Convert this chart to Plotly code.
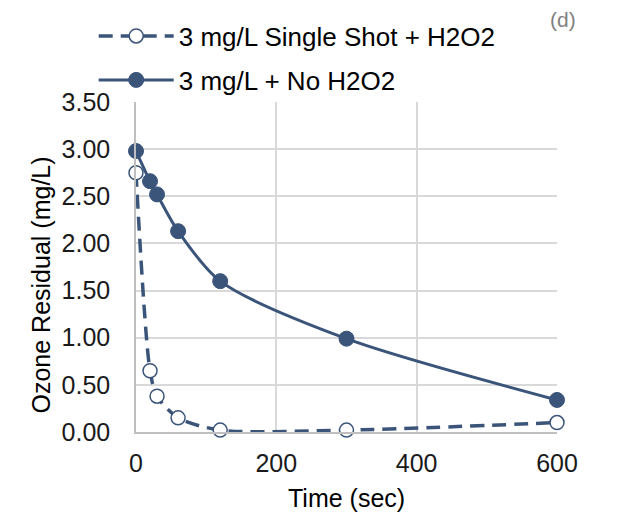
import plotly.graph_objects as go

time_h2o2 = [0, 20, 30, 60, 120, 300, 600]
resid_h2o2 = [2.75, 0.65, 0.38, 0.15, 0.02, 0.02, 0.10]
time_no = [0, 20, 30, 60, 120, 300, 600]
resid_no = [2.98, 2.66, 2.52, 2.13, 1.60, 0.99, 0.34]
yticks = [0, 0.5, 1.0, 1.5, 2.0, 2.5, 3.0, 3.5]
xticks = [0, 200, 400, 600]

C = "#3b5479"
FONT = "Liberation Sans, Arial, sans-serif"
FS = 25

fig = go.Figure()
fig.add_trace(go.Scatter(
    x=time_h2o2, y=resid_h2o2, mode="lines+markers",
    name="3 mg/L Single Shot + H2O2",
    line=dict(color=C, width=3.5, dash="14px,8px", shape="spline", smoothing=0.8),
    marker=dict(symbol="circle", size=14, color="white", line=dict(color=C, width=1.5)),
    cliponaxis=False, legend="legend", showlegend=True))
fig.add_trace(go.Scatter(
    x=time_no, y=resid_no, mode="lines+markers",
    name="3 mg/L + No H2O2",
    line=dict(color=C, width=3, shape="spline", smoothing=0.8),
    marker=dict(symbol="circle", size=15, color=C, line=dict(color=C, width=1)),
    cliponaxis=False, legend="legend2", showlegend=True))

L, R, T, B = 128, 72, 94, 92
W, H = 621, 516
pw = W - L - R
ph = H - T - B
fig.update_layout(
    width=W, height=H, showlegend=True,
    margin=dict(l=L, r=R, t=T, b=B, autoexpand=False),
    paper_bgcolor="white", plot_bgcolor="white",
    font=dict(family=FONT, size=FS, color="#000000"),
    legend=dict(visible=True, xref="container", yref="container", x=0.138, y=1 - 28 / H,
                xanchor="left", yanchor="middle", bgcolor="rgba(0,0,0,0)",
                font=dict(size=26), itemwidth=75),
    legend2=dict(visible=True, xref="container", yref="container", x=0.138, y=1 - 72 / H,
                 xanchor="left", yanchor="middle", bgcolor="rgba(0,0,0,0)",
                 font=dict(size=26), itemwidth=75),
    xaxis=dict(range=[0, 600], tickvals=xticks, showgrid=True, gridcolor="#d9d9d9", gridwidth=1.5,
               showline=True, linecolor="#bfbfbf", linewidth=1.5, zeroline=False,
               ticks="outside", ticklen=8, tickcolor="rgba(0,0,0,0)",
               tickfont=dict(size=FS, color="#1a1a1a")),
    yaxis=dict(range=[0, 3.5], tickvals=yticks, tickformat=".2f", showgrid=True, gridcolor="#d9d9d9",
               gridwidth=1.5, showline=True, linecolor="#bfbfbf", linewidth=1.5, zeroline=False,
               ticks="outside", ticklen=19, tickcolor="rgba(0,0,0,0)",
               tickfont=dict(size=FS, color="#1a1a1a")),
)
fig.add_annotation(text="Time (sec)", xref="paper", yref="paper",
                   x=(338 - L) / pw, y=((H - B) - 490) / ph,
                   xanchor="center", yanchor="middle", showarrow=False,
                   font=dict(size=FS, color="#000000"))
fig.add_annotation(text="Ozone Residual (mg/L)", xref="paper", yref="paper",
                   x=(32 - L) / pw, y=((H - B) - 277.5) / ph, textangle=-90,
                   xanchor="center", yanchor="middle", showarrow=False,
                   font=dict(size=FS, color="#000000"))
fig.add_annotation(text="(d)", xref="paper", yref="paper",
                   x=(555 - L) / pw, y=((H - B) - 12) / ph,
                   xanchor="center", yanchor="middle", showarrow=False,
                   font=dict(size=21, color="#808080"))
fig.write_html("out.html")
